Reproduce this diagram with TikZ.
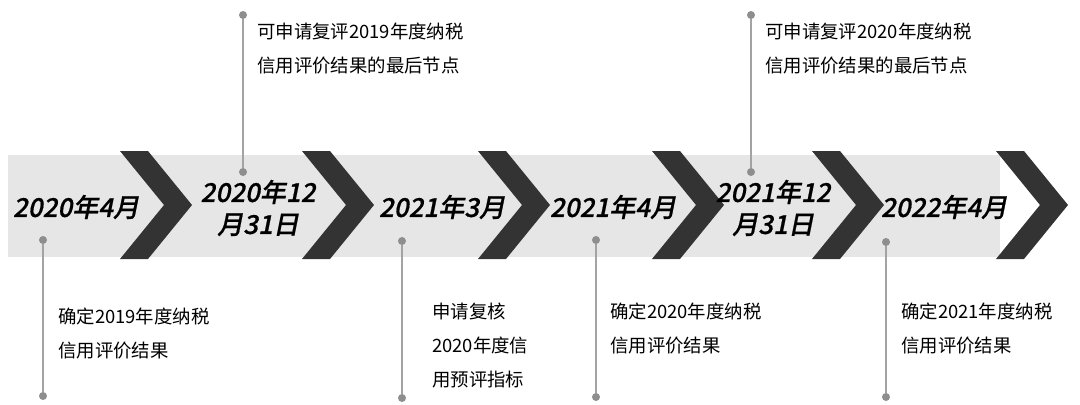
\documentclass[tikz,border=0pt]{standalone}
\usepackage{fontspec}
\setmainfont{Noto Sans CJK SC}
\newfontfamily\datefont{Noto Sans CJK SC Medium}[FakeSlant=0.2,FakeBold=0.6]
\usetikzlibrary{positioning}
\definecolor{bandgray}{HTML}{E6E6E6}
\definecolor{arrowgray}{HTML}{333333}
\definecolor{stemgray}{HTML}{A3A3A3}
\definecolor{dotgray}{HTML}{8E8E8E}
\tikzset{
  datelabel/.style={font=\datefont\fontsize{19.5}{24}\selectfont,align=center,inner sep=0pt},
  note/.style={font=\fontsize{13.8}{25.5}\selectfont,align=left,anchor=north west,inner sep=0pt},
  dot/.style={circle,fill=dotgray,inner sep=0pt,minimum size=6pt},
  stem/.style={draw=stemgray,line width=1.5pt},
  chevron/.style={fill=arrowgray}
}

\begin{document}
\begin{tikzpicture}[x=0.75pt,y=-0.75pt]
\useasboundingbox (0,0) rectangle (1080,404);
% 时间轴
\fill[bandgray] (8,155) rectangle (1000,257);
\foreach \x in {120,302,478,652,812,996}
  \fill[chevron] (\x,151) -- ++(28,0) -- ++(44,54) -- ++(-44,54) -- ++(-28,0) -- ++(44,-54) -- cycle;

% 日期
\node[datelabel] (t1) at (76,207) {2020年4月};
\node[datelabel] (t2) at (258,208) {2020年12\\月31日};
\node[datelabel] (t3) at (442,207) {2021年3月};
\node[datelabel] (t4) at (613,207) {2021年4月};
\node[datelabel] (t5) at (773,208) {2021年12\\月31日};
\node[datelabel] (t6) at (944,207) {2022年4月};

% 上方说明
\node[dot] (u1a) at (243,15) {};
\node[dot] (u1b) at (243,172) {};
\draw[stem] (u1a) -- (u1b);
\node[note] (n2) at (257,23) {可申请复评2019年度纳税\\信用评价结果的最后节点};

\node[dot] (u2a) at (751,15) {};
\node[dot] (u2b) at (751,172) {};
\draw[stem] (u2a) -- (u2b);
\node[note] (n5) at (765,23) {可申请复评2020年度纳税\\信用评价结果的最后节点};

% 下方说明
\node[dot] (d1a) at (43,240) {};
\node[dot] (d1b) at (43,396) {};
\draw[stem] (d1a) -- (d1b);
\node[note] (n1) at (58,308) {确定2019年度纳税\\信用评价结果};

\node[dot] (d3a) at (402,241) {};
\node[dot] (d3b) at (402,398) {};
\draw[stem] (d3a) -- (d3b);
\node[note] (n3) at (432,303) {申请复核\\2020年度信\\用预评指标};

\node[dot] (d4a) at (596,240) {};
\node[dot] (d4b) at (596,397) {};
\draw[stem] (d4a) -- (d4b);
\node[note] (n4) at (610,303) {确定2020年度纳税\\信用评价结果};

\node[dot] (d6a) at (886,242) {};
\node[dot] (d6b) at (886,397) {};
\draw[stem] (d6a) -- (d6b);
\node[note] (n6) at (901,303) {确定2021年度纳税\\信用评价结果};
\end{tikzpicture}
\end{document}
